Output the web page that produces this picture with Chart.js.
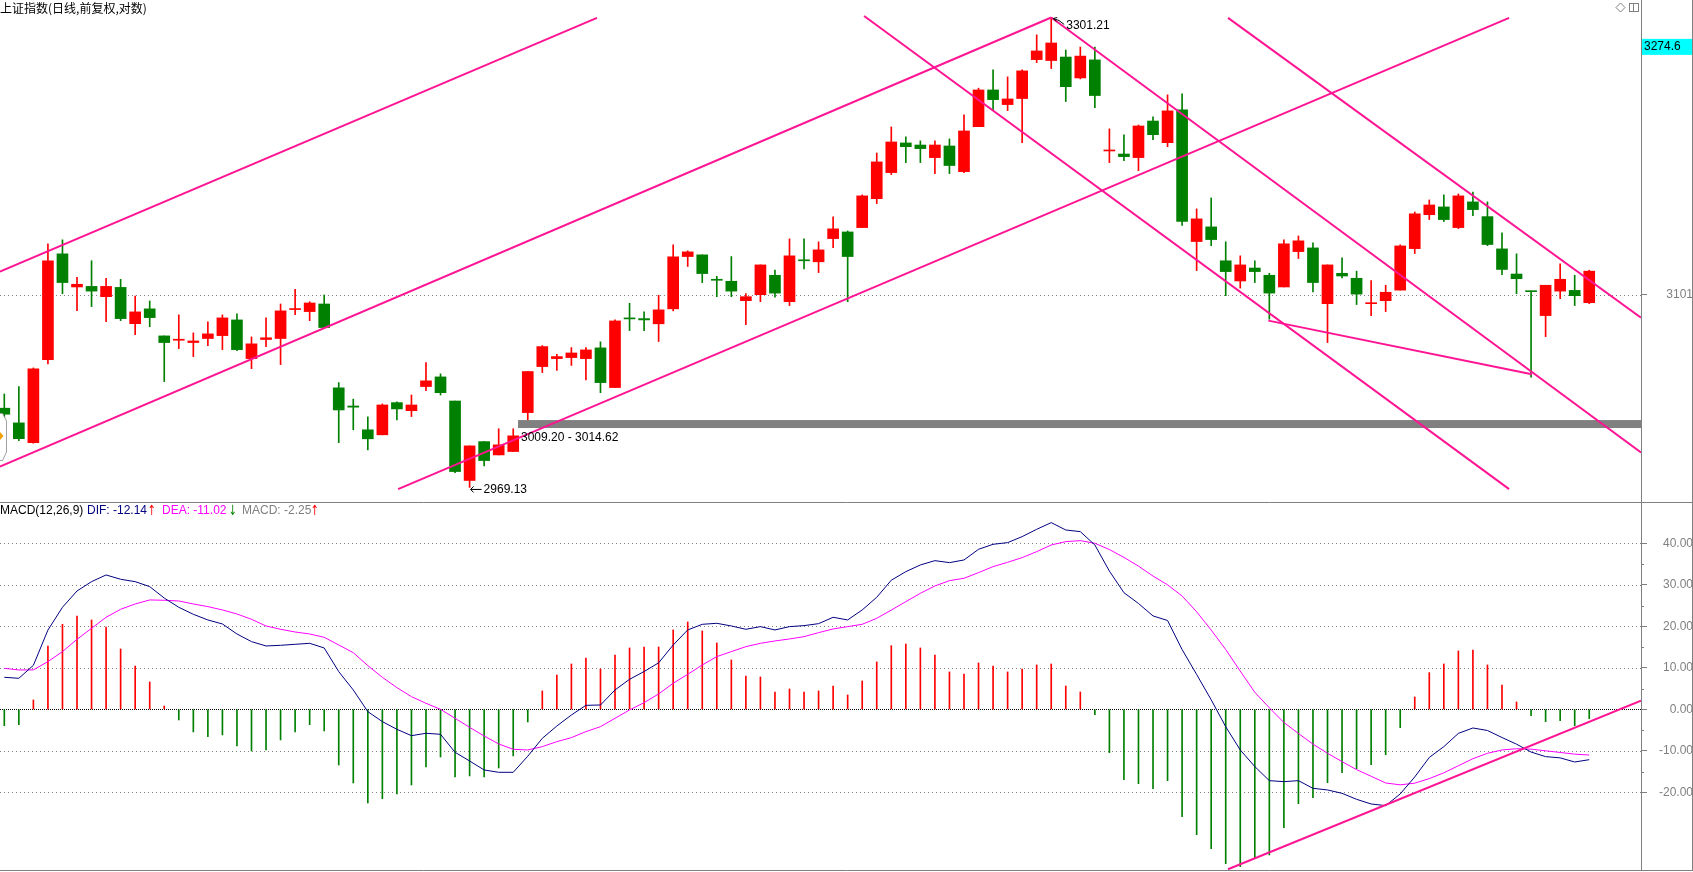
<!DOCTYPE html>
<html lang="zh">
<head>
<meta charset="utf-8">
<title>上证指数 日线 MACD</title>
<script src="https://cdn.jsdelivr.net/npm/chart.js@4.4.1/dist/chart.umd.min.js"></script>
<style>
  html, body { margin: 0; padding: 0; background: #fff; }
  #wrap { position: relative; width: 1693px; height: 872px; overflow: hidden; }
  canvas { position: absolute; left: 0; }
  #priceChart { top: 0; }
  #macdChart { top: 502px; }
  .lbl { position: absolute; white-space: nowrap; font: 12px "Liberation Sans", Arial, sans-serif; line-height: 14px; }
  .arr { font: 14px "DejaVu Sans", sans-serif; line-height: 14px; transform: scaleX(0.7); }
  #title { left: 0; top: 0; font: 12px "Noto Sans CJK SC", sans-serif; line-height: 16px; color: #000; }
  #frameRight { position: absolute; left: 1692px; top: 0; width: 1px; height: 871px; background: #808080; }
</style>
</head>
<body>
<div id="wrap">
  <canvas id="priceChart" width="1693" height="502"></canvas>
  <canvas id="macdChart" width="1693" height="370"></canvas>
  <div id="frameRight"></div>
  <div class="lbl" id="title">上证指数(日线,前复权,对数)</div>
  <div class="lbl" style="left:0;top:503px;color:#000">MACD(12,26,9)</div>
  <div class="lbl" id="difLbl" style="left:87px;top:503px;color:#000080"></div>
  <div class="lbl arr" id="difArr" style="left:146px;top:503px"></div>
  <div class="lbl" id="deaLbl" style="left:162px;top:503px;color:#FF00FF"></div>
  <div class="lbl arr" id="deaArr" style="left:227px;top:503px"></div>
  <div class="lbl" id="macdLbl" style="left:242px;top:503px;color:#808080"></div>
  <div class="lbl arr" id="macdArr" style="left:309px;top:503px"></div>
</div>
<script>
// daily candles
const opens = [3022.7, 3012.7, 2999.3, 3056.0, 3129.8, 3106.5, 3106.9, 3099.7, 3106.2, 3080.9,
  3091.2, 3072.4, 3069.4, 3067.8, 3070.6, 3072.6, 3083.5, 3056.7, 3069.9, 3070.6,
  3090.7, 3089.3, 3094.6, 3036.6, 3024.2, 3008.0, 3004.6, 3026.5, 3021.0, 3037.5,
  3044.1, 3027.6, 2973.8, 3000.0, 2991.0, 2993.3, 3019.7, 3051.2, 3056.7, 3057.4,
  3056.7, 3064.1, 3036.8, 3084.9, 3084.4, 3080.8, 3091.2, 3127.9, 3129.1, 3111.9,
  3110.5, 3096.9, 3101.1, 3114.7, 3096.2, 3125.6, 3124.2, 3140.6, 3145.3, 3148.4,
  3169.0, 3187.7, 3209.1, 3207.6, 3198.5, 3206.9, 3188.4, 3220.9, 3247.7, 3237.0,
  3241.4, 3270.0, 3269.3, 3271.9, 3256.5, 3269.8, 3203.3, 3201.1, 3198.5, 3225.0,
  3209.3, 3233.1, 3138.5, 3148.9, 3124.9, 3110.7, 3119.8, 3114.7, 3106.5, 3131.4,
  3134.0, 3094.8, 3116.1, 3112.6, 3094.8, 3096.9, 3104.3, 3133.5, 3157.6, 3163.1,
  3148.4, 3166.7, 3156.2, 3133.3, 3115.6, 3103.6, 3086.5, 3103.6, 3104.1, 3095.5];
const highs = [3032.4, 3037.5, 3050.3, 3136.9, 3139.7, 3113.3, 3124.9, 3112.6, 3111.9, 3100.2,
  3096.7, 3072.4, 3087.0, 3074.5, 3082.1, 3087.0, 3087.7, 3071.7, 3084.9, 3094.6,
  3104.8, 3096.2, 3100.9, 3040.2, 3028.9, 3016.8, 3025.6, 3027.1, 3031.7, 3054.0,
  3046.2, 3027.6, 2997.1, 3000.0, 3008.7, 3008.7, 3047.8, 3065.7, 3059.7, 3064.3,
  3064.3, 3068.3, 3083.5, 3095.1, 3089.1, 3100.7, 3136.2, 3131.9, 3129.1, 3114.0,
  3127.9, 3101.8, 3122.0, 3118.3, 3140.4, 3140.4, 3138.3, 3156.0, 3146.0, 3171.7,
  3201.8, 3220.7, 3213.5, 3210.6, 3210.6, 3212.0, 3229.5, 3249.0, 3262.4, 3257.3,
  3262.4, 3288.3, 3301.21, 3277.1, 3279.3, 3279.3, 3219.3, 3214.9, 3222.1, 3228.0,
  3244.1, 3244.8, 3161.7, 3169.5, 3138.3, 3128.4, 3124.9, 3116.1, 3139.7, 3142.5,
  3137.6, 3122.0, 3127.0, 3117.6, 3110.9, 3107.7, 3136.2, 3159.5, 3168.1, 3171.7,
  3172.4, 3173.8, 3166.7, 3144.6, 3129.8, 3103.6, 3107.7, 3122.7, 3114.7, 3118.3];
const lows = [3015.9, 3000.7, 2998.9, 3053.1, 3101.8, 3090.0, 3092.8, 3082.3, 3083.0, 3073.3,
  3078.8, 3040.9, 3063.6, 3058.1, 3065.7, 3062.9, 3062.2, 3049.8, 3065.0, 3052.6,
  3087.2, 3083.0, 3077.7, 2999.3, 3008.0, 2994.4, 3004.6, 3014.7, 3017.0, 3034.7,
  3031.7, 2979.1, 2969.13, 2983.6, 2991.0, 2993.3, 3014.2, 3047.1, 3048.5, 3052.0,
  3042.1, 3033.3, 3036.8, 3076.1, 3076.1, 3068.5, 3089.8, 3120.9, 3109.6, 3099.7,
  3099.7, 3080.2, 3096.2, 3099.3, 3093.5, 3119.1, 3116.6, 3134.2, 3096.2, 3148.4,
  3165.5, 3186.3, 3194.9, 3194.9, 3187.0, 3187.0, 3187.7, 3220.9, 3232.6, 3232.6,
  3209.3, 3267.8, 3263.4, 3239.2, 3255.8, 3234.8, 3194.9, 3196.3, 3189.1, 3211.5,
  3206.4, 3149.9, 3118.0, 3135.6, 3100.4, 3105.7, 3109.6, 3084.0, 3106.5, 3126.5,
  3103.0, 3067.8, 3112.8, 3094.2, 3086.5, 3089.3, 3104.3, 3130.0, 3154.1, 3152.7,
  3147.7, 3156.9, 3135.6, 3115.2, 3101.8, 3043.9, 3071.9, 3098.3, 3093.5, 3094.8];
const closes = [3018.6, 3002.0, 3049.6, 3124.9, 3109.6, 3108.4, 3103.6, 3106.9, 3084.4, 3089.1,
  3085.1, 3067.8, 3070.1, 3068.9, 3073.8, 3084.9, 3062.9, 3066.9, 3071.1, 3089.8,
  3091.2, 3095.3, 3078.2, 3021.5, 3023.4, 3001.9, 3024.9, 3022.2, 3024.9, 3041.4,
  3033.3, 2979.8, 2997.1, 2987.2, 2997.8, 3003.9, 3047.8, 3065.0, 3058.1, 3060.6,
  3062.7, 3040.2, 3082.8, 3084.2, 3083.5, 3090.5, 3127.7, 3131.2, 3115.9, 3111.2,
  3103.6, 3099.7, 3122.0, 3102.2, 3128.4, 3124.9, 3132.6, 3147.5, 3127.9, 3171.0,
  3195.4, 3209.8, 3206.4, 3205.0, 3207.6, 3192.8, 3217.8, 3247.7, 3240.6, 3241.1,
  3261.7, 3276.4, 3282.3, 3250.1, 3272.6, 3243.6, 3204.0, 3199.2, 3221.4, 3215.1,
  3232.4, 3152.7, 3154.6, 3139.9, 3117.3, 3122.0, 3117.3, 3102.2, 3136.9, 3139.0,
  3109.6, 3122.0, 3114.2, 3101.5, 3095.5, 3102.8, 3135.4, 3158.2, 3164.5, 3154.1,
  3171.0, 3161.2, 3136.4, 3118.8, 3112.3, 3103.2, 3107.7, 3111.9, 3100.4, 3117.6];

// MACD(12,26,9)
const dif = [7.71, 7.47, 10.6, 19.1, 24.58, 28.51, 30.76, 32.37, 31.33, 30.76,
  29.56, 26.8, 24.58, 22.89, 21.53, 20.56, 18.15, 16.31, 15.26, 15.42,
  15.66, 15.9, 14.78, 9.08, 4.66, -0.56, -2.97, -4.82, -6.35, -5.78,
  -6.02, -10.36, -12.45, -14.62, -15.18, -15.18, -11.3, -6.99, -4.02, -1.37,
  0.96, 1.04, 4.66, 7.23, 9.1, 11.2, 15.5, 19.12, 20.48, 20.72,
  20.08, 19.28, 19.92, 19.12, 19.92, 20.16, 20.64, 22.17, 21.53, 23.94,
  26.99, 31.1, 33.17, 34.78, 35.82, 35.34, 35.98, 38.55, 39.76, 40.16,
  41.61, 43.37, 44.98, 43.21, 42.81, 39.6, 33.3, 28.1, 25.5, 22.5,
  21.4, 14.4, 8.4, 2.3, -4.2, -9.8, -13.8, -17.19, -17.43, -17.19,
  -19.04, -19.44, -20.24, -21.69, -22.81, -23.21, -20.4, -16.3, -11.6, -9.0,
  -5.8, -4.5, -5.1, -6.8, -8.4, -10.3, -11.4, -11.7, -12.7, -12.14];
const dea = [9.88, 9.48, 9.5, 11.49, 13.9, 16.87, 19.52, 22.17, 24.1, 25.38,
  26.35, 26.27, 26.1, 25.38, 24.74, 23.94, 22.97, 21.69, 20.08, 19.28,
  18.63, 18.15, 17.35, 15.5, 13.65, 10.52, 7.71, 5.22, 3.05, 1.45,
  0.0, -2.17, -4.34, -6.43, -8.35, -9.64, -9.8, -9.0, -7.79, -6.83,
  -5.38, -4.18, -2.17, -0.16, 1.6, 3.7, 6.27, 8.43, 10.68, 12.69,
  13.9, 15.1, 15.9, 16.47, 16.95, 17.51, 18.47, 19.36, 19.92, 20.48,
  21.93, 23.9, 25.94, 27.95, 29.72, 31.0, 31.57, 32.93, 34.38, 35.42,
  36.55, 37.99, 39.6, 40.4, 40.64, 40.0, 38.5, 36.6, 34.5, 32.1,
  30.0, 27.3, 23.5, 19.1, 14.4, 9.2, 4.1, 0.36, -3.17, -5.82,
  -8.39, -10.6, -12.61, -14.54, -16.14, -17.75, -18.2, -17.8, -16.7, -15.3,
  -13.6, -11.9, -10.6, -9.8, -9.5, -9.6, -10.0, -10.4, -10.8, -11.02];
const macdHist = [-3.94, -3.69, 2.25, 15.26, 20.48, 22.49, 21.53, 19.84, 14.54, 10.44,
  6.59, 0.8, -2.57, -5.46, -6.59, -6.18, -8.84, -10.04, -9.8, -7.39,
  -5.46, -3.69, -5.22, -13.41, -17.75, -22.57, -21.53, -20.4, -18.23, -13.9,
  -11.49, -16.31, -16.06, -16.31, -14.14, -11.24, -3.05, 4.42, 8.27, 10.92,
  12.37, 9.72, 13.09, 14.78, 15.02, 15.02, 19.12, 21.04, 18.88, 15.98,
  11.89, 8.03, 7.79, 4.18, 4.9, 4.18, 4.42, 5.62, 3.45, 6.83,
  11.41, 15.34, 15.74, 14.78, 13.09, 9.0, 8.51, 11.16, 10.44, 9.0,
  9.72, 10.68, 10.92, 5.62, 4.18, -1.29, -10.44, -16.95, -17.91, -19.12,
  -17.19, -25.86, -30.2, -33.57, -37.19, -37.91, -35.74, -35.1, -28.51, -22.73,
  -21.29, -17.67, -15.26, -14.3, -13.33, -10.92, -4.42, 2.97, 8.84, 10.92,
  14.06, 14.3, 10.68, 5.86, 1.77, -1.53, -2.97, -2.73, -3.94, -2.25];

const priceTicks = [3101];
const macdTicks = [-20, -10, 0, 10, 20, 30, 40];
const macdMinorTicks = [-15, -5, 5, 15, 25, 35];

// hand drawn lines: [startIndex, startValue, endIndex, endValue]
const priceTrendLines = [
  [-0.3, 3117.3, 40.76, 3300.9],
  [-0.3, 2983.2, 72, 3301.21],
  [27.08, 2968.0, 103.49, 3300.9],
  [59.13, 3302.3, 103.49, 2968.0],
  [72, 3301.21, 112.56, 2992.7],
  [84.16, 3300.9, 112.56, 3085.1],
  [86.93, 3083.0, 105.05, 3045.9]
];
const macdTrendLines = [[84.16, -38.55, 112.56, 2.07]];

const highMark = { index: 72, value: 3301.21 };
const lowMark = { index: 32, value: 2969.13 };
const zoneRange = [3009.20, 3014.62];
const zoneStart = 35.33;
const cursorPrice = 3274.6;

const RED = '#FF0000', GREEN = '#008000', GRAY = '#808080', PINK = '#FF1493';
const X_MIN = -0.296, X_MAX = 112.56;

Chart.defaults.font.family = "'Liberation Sans', Arial, sans-serif";
Chart.defaults.font.size = 12;

const candleColors = opens.map((o, i) => closes[i] >= o ? RED : GREEN);
const wickData = highs.map((h, i) => ({ x: i, y: [lows[i], h] }));
const bodyData = opens.map((o, i) => ({ x: i, y: [o, closes[i]] }));

function drawLines(chart, lines) {
    const { ctx, chartArea: a, scales: { x, y } } = chart;
    ctx.save();
    ctx.beginPath();
    ctx.rect(a.left, a.top, a.right - a.left, a.bottom - a.top);
    ctx.clip();
    ctx.strokeStyle = PINK;
    ctx.lineWidth = 2;
    lines.forEach(([i1, v1, i2, v2]) => {
        ctx.beginPath();
        ctx.moveTo(x.getPixelForValue(i1), y.getPixelForValue(v1));
        ctx.lineTo(x.getPixelForValue(i2), y.getPixelForValue(v2));
        ctx.stroke();
    });
    ctx.restore();
}

const priceOverlay = {
    id: 'priceOverlay',
    beforeDatasetsDraw(chart) {
        const { ctx, chartArea: a, scales: { y } } = chart;
        ctx.save();
        ctx.strokeStyle = GRAY;
        ctx.lineWidth = 1;
        ctx.setLineDash([1, 3]);
        priceTicks.forEach(v => {
            const py = Math.round(y.getPixelForValue(v)) + 0.5;
            ctx.beginPath();
            ctx.moveTo(a.left, py);
            ctx.lineTo(a.right, py);
            ctx.stroke();
        });
        ctx.restore();
    },
    afterDatasetsDraw(chart) {
        const { ctx, chartArea: a, scales: { x, y } } = chart;

        // support zone band
        const zx = x.getPixelForValue(zoneStart);
        const zt = y.getPixelForValue(zoneRange[1]);
        const zb = y.getPixelForValue(zoneRange[0]);
        ctx.save();
        ctx.fillStyle = GRAY;
        ctx.fillRect(zx, zt, a.right - zx, zb - zt);
        ctx.restore();

        drawLines(chart, priceTrendLines);

        ctx.save();
        ctx.font = "12px 'Liberation Sans', Arial, sans-serif";
        ctx.fillStyle = '#000';
        ctx.strokeStyle = '#000';
        ctx.lineWidth = 1;
        ctx.textBaseline = 'middle';

        // high marker
        const hx = x.getPixelForValue(highMark.index), hy = y.getPixelForValue(highMark.value);
        ctx.beginPath();
        ctx.moveTo(hx + 2, hy + 1);
        ctx.quadraticCurveTo(hx + 8, hy + 2, hx + 13, hy + 7);
        ctx.moveTo(hx + 2, hy + 1);
        ctx.lineTo(hx + 6, hy + 0);
        ctx.moveTo(hx + 2, hy + 1);
        ctx.lineTo(hx + 5, hy + 4);
        ctx.stroke();
        ctx.fillText(highMark.value.toFixed(2), hx + 15, hy + 8);

        // low marker
        const lx = x.getPixelForValue(lowMark.index), ly = y.getPixelForValue(lowMark.value) + 2;
        ctx.beginPath();
        ctx.moveTo(lx + 1, ly);
        ctx.lineTo(lx + 12, ly);
        ctx.moveTo(lx + 1, ly);
        ctx.lineTo(lx + 4, ly - 3);
        ctx.moveTo(lx + 1, ly);
        ctx.lineTo(lx + 4, ly + 3);
        ctx.stroke();
        ctx.fillText(lowMark.value.toFixed(2), lx + 14, ly);

        // zone label
        ctx.fillText(zoneRange[0].toFixed(2) + ' - ' + zoneRange[1].toFixed(2), zx + 3, zb + 10);
        ctx.restore();
    },
    afterDraw(chart) {
        const { ctx, chartArea: a, scales: { y } } = chart;
        ctx.save();
        // cursor price box on the axis
        const cy = y.getPixelForValue(cursorPrice);
        ctx.fillStyle = '#00FFFF';
        ctx.fillRect(a.right + 1, cy - 14.5, 50, 16);
        ctx.fillStyle = '#000';
        ctx.font = "12px 'Liberation Sans', Arial, sans-serif";
        ctx.textBaseline = 'middle';
        ctx.fillText(cursorPrice.toFixed(1), a.right + 3, cy - 6.5);

        // small panel icons, top right
        ctx.strokeStyle = GRAY;
        ctx.lineWidth = 1;
        ctx.beginPath();
        ctx.moveTo(1620.5, 3); ctx.lineTo(1625, 7.5); ctx.lineTo(1620.5, 12); ctx.lineTo(1616, 7.5); ctx.closePath();
        ctx.stroke();
        ctx.strokeRect(1629.5, 3.5, 9, 8);
        ctx.beginPath(); ctx.moveTo(1633.5, 3.5); ctx.lineTo(1633.5, 11.5); ctx.stroke();

        // collapse handle on the left edge
        ctx.fillStyle = '#fff';
        ctx.strokeStyle = '#A0A0A0';
        ctx.beginPath();
        ctx.moveTo(-3, 413.5); ctx.lineTo(2.5, 413.5); ctx.lineTo(6.5, 421); ctx.lineTo(6.5, 452);
        ctx.lineTo(2.5, 460.5); ctx.lineTo(-3, 460.5); ctx.closePath();
        ctx.fill(); ctx.stroke();
        ctx.fillStyle = '#F0A000';
        ctx.beginPath(); ctx.moveTo(0, 432); ctx.lineTo(3.5, 436); ctx.lineTo(0, 440); ctx.closePath(); ctx.fill();
        ctx.restore();
    }
};

const macdOverlay = {
    id: 'macdOverlay',
    beforeDatasetsDraw(chart) {
        const { ctx, chartArea: a, scales: { y } } = chart;
        ctx.save();
        ctx.lineWidth = 1;
        macdTicks.forEach(v => {
            const py = Math.round(y.getPixelForValue(v)) + 0.5;
            ctx.strokeStyle = v === 0 ? '#000' : GRAY;
            ctx.setLineDash(v === 0 ? [1, 1] : [1, 3]);
            ctx.beginPath();
            ctx.moveTo(a.left, py);
            ctx.lineTo(a.right, py);
            ctx.stroke();
        });
        ctx.setLineDash([]);
        ctx.strokeStyle = GRAY;
        macdMinorTicks.forEach(v => {
            const py = Math.round(y.getPixelForValue(v)) + 0.5;
            ctx.beginPath();
            ctx.moveTo(a.right, py);
            ctx.lineTo(a.right + 3, py);
            ctx.stroke();
        });
        ctx.restore();
    },
    afterDatasetsDraw(chart) {
        drawLines(chart, macdTrendLines);
    },
    afterDraw(chart) {
        const { ctx, chartArea: a, width } = chart;
        ctx.save();
        ctx.strokeStyle = GRAY;
        ctx.lineWidth = 1;
        ctx.beginPath();
        ctx.moveTo(0, 0.5); ctx.lineTo(width, 0.5);
        ctx.moveTo(0, Math.round(a.bottom) + 0.5); ctx.lineTo(width, Math.round(a.bottom) + 0.5);
        ctx.stroke();
        ctx.restore();
    }
};

const rightAxis = (padding) => ({
    position: 'right',
    beginAtZero: false,
    afterFit: s => { s.width = 52; s.paddingTop = 0; s.paddingBottom = 0; },
    grid: { drawOnChartArea: false, drawTicks: true, tickLength: 6, tickColor: GRAY },
    border: { display: true, color: GRAY, width: 1 },
    ticks: { color: GRAY, padding: padding, crossAlign: 'far', autoSkip: false, maxRotation: 0 }
});

const priceY = rightAxis(15);
priceY.type = 'logarithmic';
priceY.min = 2959.4;
priceY.max = 3314.27;
priceY.afterBuildTicks = s => { s.ticks = priceTicks.map(v => ({ value: v })); };
priceY.ticks.callback = v => String(v);

new Chart(document.getElementById('priceChart'), {
    type: 'bar',
    data: {
        datasets: [
            { data: wickData, backgroundColor: candleColors, barThickness: 1, grouped: false, minBarLength: 1, borderWidth: 0 },
            { data: bodyData, backgroundColor: candleColors, barThickness: 11, grouped: false, minBarLength: 1, borderWidth: 0 }
        ]
    },
    options: {
        responsive: false,
        animation: false,
        devicePixelRatio: 1,
        events: [],
        layout: { padding: 0, autoPadding: false },
        plugins: { legend: { display: false }, tooltip: { enabled: false } },
        scales: {
            x: { type: 'linear', min: X_MIN, max: X_MAX, display: false, offset: false },
            y: priceY
        }
    },
    plugins: [priceOverlay]
});

const macdY = rightAxis(8);
macdY.type = 'linear';
macdY.min = -38.72;
macdY.max = 49.95;
macdY.afterBuildTicks = s => { s.ticks = macdTicks.map(v => ({ value: v })); };
macdY.ticks.callback = v => Number(v).toFixed(2);

new Chart(document.getElementById('macdChart'), {
    type: 'bar',
    data: {
        datasets: [
            { type: 'line', data: dif.map((v, i) => ({ x: i, y: v })), borderColor: '#000080', borderWidth: 1, pointRadius: 0, tension: 0, order: 0 },
            { type: 'line', data: dea.map((v, i) => ({ x: i, y: v })), borderColor: '#FF00FF', borderWidth: 1, pointRadius: 0, tension: 0, order: 1 },
            { type: 'bar', data: macdHist.map((v, i) => ({ x: i, y: v })), backgroundColor: macdHist.map(v => v >= 0 ? RED : GREEN), barThickness: 1, grouped: false, borderWidth: 0, order: 2 }
        ]
    },
    options: {
        responsive: false,
        animation: false,
        devicePixelRatio: 1,
        events: [],
        layout: { padding: { top: 0, left: 0, right: 0, bottom: 2 }, autoPadding: false },
        plugins: { legend: { display: false }, tooltip: { enabled: false } },
        scales: {
            x: { type: 'linear', min: X_MIN, max: X_MAX, display: false, offset: false },
            y: macdY
        }
    },
    plugins: [macdOverlay]
});

// MACD legend values come from the last bar
const last = dif.length - 1;
function arrow(el, cur, prev) {
    el.textContent = cur >= prev ? '↑' : '↓';
    el.style.color = cur >= prev ? RED : GREEN;
}
document.getElementById('difLbl').textContent = 'DIF: ' + dif[last].toFixed(2);
document.getElementById('deaLbl').textContent = 'DEA: ' + dea[last].toFixed(2);
document.getElementById('macdLbl').textContent = 'MACD: ' + macdHist[last].toFixed(2);
arrow(document.getElementById('difArr'), dif[last], dif[last - 1]);
arrow(document.getElementById('deaArr'), dea[last], dea[last - 1]);
arrow(document.getElementById('macdArr'), macdHist[last], macdHist[last - 1]);
</script>
</body>
</html>
